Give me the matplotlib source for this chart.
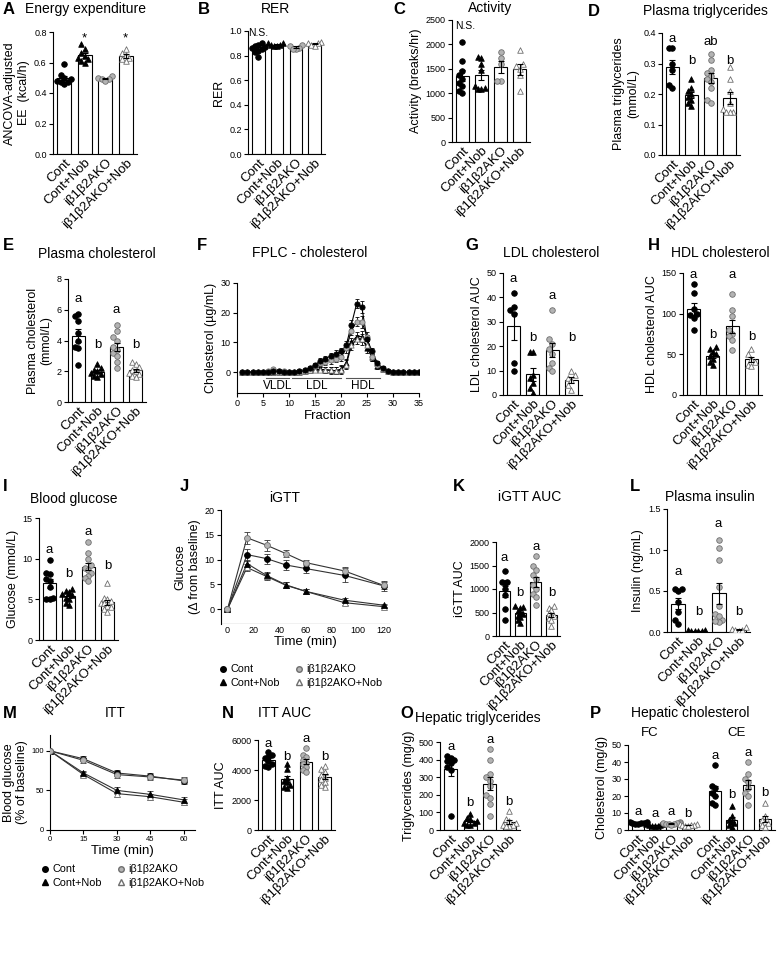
import numpy as np
import matplotlib
matplotlib.use('Agg')
import matplotlib.pyplot as plt
from matplotlib.lines import Line2D

plt.rcParams['font.family'] = ['Liberation Sans', 'DejaVu Sans']

W, H = 782, 957
grupos = ['Cont', 'Cont+Nob', 'iβ1β2AKO', 'iβ1β2AKO+Nob']

# ---- datos (valores individuales por grupo) ----
ee = [[0.59, 0.52, 0.50, 0.49, 0.48, 0.47, 0.47, 0.46],
      [0.72, 0.69, 0.66, 0.64, 0.63, 0.62, 0.61, 0.60],
      [0.51, 0.50, 0.49, 0.49, 0.48],
      [0.69, 0.66, 0.65, 0.63, 0.62, 0.61]]
rer = [[0.90, 0.89, 0.88, 0.87, 0.86, 0.85, 0.84, 0.83, 0.79],
       [0.90, 0.90, 0.89, 0.89, 0.88, 0.88],
       [0.89, 0.88, 0.86, 0.85, 0.85],
       [0.91, 0.90, 0.90, 0.89, 0.88]]
actividad = [[2050, 1650, 1450, 1380, 1300, 1200, 1150, 1050, 1000],
             [1750, 1720, 1600, 1480, 1150, 1100, 1080, 1080],
             [1850, 1720, 1600, 1250, 1250],
             [1880, 1600, 1550, 1500, 1380, 1050]]
tg_plasma = [[0.35, 0.35, 0.30, 0.28, 0.23, 0.22],
             [0.25, 0.22, 0.21, 0.20, 0.19, 0.18, 0.17, 0.16],
             [0.33, 0.31, 0.28, 0.27, 0.26, 0.25, 0.24, 0.22, 0.18, 0.17],
             [0.29, 0.25, 0.21, 0.17, 0.15, 0.14, 0.14, 0.14]]
col_plasma = [[5.7, 5.6, 5.3, 4.5, 4.0, 3.6, 3.5, 2.4],
              [2.5, 2.2, 2.1, 2.0, 1.9, 1.8, 1.7, 1.6],
              [5.0, 4.6, 4.2, 4.0, 3.6, 3.4, 3.2, 3.0, 2.6, 2.2],
              [2.6, 2.5, 2.3, 2.1, 2.0, 1.9, 1.8, 1.7, 1.6]]
ldl_auc = [[42, 36, 35, 33, 13, 10],
           [17.5, 17.5, 8, 7, 5, 3, 1],
           [35, 23, 21, 19, 17, 13, 11, 10],
           [10, 8, 7, 6, 4, 2]]
hdl_auc = [[136, 125, 106, 100, 98, 95, 80],
           [59, 57, 53, 50, 48, 44, 40, 37],
           [124, 104, 97, 80, 75, 72, 68, 55],
           [56, 50, 44, 40, 37, 36]]
glucosa = [[9.8, 8.2, 8.1, 7.5, 7.3, 6.5, 5.2, 5.1, 5.1],
           [6.3, 6.0, 5.9, 5.6, 5.5, 5.2, 5.0, 4.5, 4.3],
           [12.0, 10.7, 10.0, 9.2, 8.9, 8.6, 8.2, 7.9, 7.6, 7.2],
           [7.0, 5.2, 5.0, 4.8, 4.6, 4.5, 4.2, 4.0, 3.8, 3.5]]
igtt_auc = [[1380, 1150, 1140, 1130, 1000, 870, 580, 330],
            [630, 620, 600, 540, 500, 470, 430, 400, 330, 280],
            [1700, 1480, 1400, 1300, 1210, 1080, 1000, 900, 830, 650],
            [630, 600, 550, 500, 450, 420, 380, 330, 220]]
insulina = [[0.53, 0.52, 0.50, 0.36, 0.25, 0.15, 0.10],
            [0.02, 0.01, 0.01, 0.01, 0.02, 0.01],
            [1.12, 1.03, 0.88, 0.55, 0.32, 0.22, 0.15, 0.12, 0.13, 0.20],
            [0.06, 0.04, 0.02, 0.01, 0.02]]
itt_auc = [[5200, 5000, 4900, 4800, 4600, 4400, 4300, 4200],
           [4400, 4100, 3500, 3300, 3200, 3000, 2900, 2800],
           [5500, 5000, 4900, 4700, 4500, 4400, 4200, 4000, 3900],
           [4300, 4100, 3900, 3700, 3500, 3400, 3200, 3000, 2900]]
tg_hepatico = [[420, 410, 400, 390, 380, 360, 340, 80],
               [90, 70, 60, 50, 40, 40, 30, 30],
               [460, 400, 320, 300, 280, 250, 200, 180, 150, 80],
               [110, 60, 50, 40, 30, 30, 20, 20]]
fc_hepatico = [[5.0, 4.6, 4.4, 4.2, 4.0, 3.8, 3.6],
               [3.6, 3.3, 3.0, 2.8, 2.6, 2.5, 2.3],
               [4.8, 4.4, 4.1, 3.9, 3.7, 3.5, 3.3, 3.1],
               [3.8, 3.4, 3.1, 2.9, 2.7, 2.5, 2.3]]
ce_hepatico = [[38, 26, 25, 22, 20, 16, 15],
               [14, 8, 6, 5, 4, 3, 2],
               [40, 33, 30, 28, 25, 22, 20, 15],
               [16, 8, 6, 5, 4, 3, 2]]

# FPLC (fracciones 1-35)
fracciones = np.arange(1, 36)
fplc_cont = [0, 0, 0, 0, 0, 0.2, 0.5, 0.3, 0.2, 0.2, 0.2, 0.3, 0.8, 1.5, 2.5, 3.8, 4.5, 5.5, 6.2, 7,
             9, 16, 23, 22, 11, 7, 3, 1.5, 0.5, 0.2, 0.1, 0, 0, 0, 0]
fplc_contnob = [0, 0, 0, 0, 0, 0.1, 0.2, 0.2, 0.1, 0.1, 0.1, 0.2, 0.4, 0.8, 1, 1, 0.8, 0.7, 0.5, 1,
                3, 10, 12, 12, 8, 5, 2, 1, 0.5, 0.2, 0.1, 0, 0, 0, 0]
fplc_ako = [0, 0, 0, 0, 0, 0.5, 1.0, 0.5, 0.3, 0.2, 0.2, 0.3, 0.8, 1.5, 2, 3, 3.5, 4, 4.5, 5,
            8, 14, 17, 17, 12, 5, 2.5, 1, 0.5, 0.2, 0.1, 0, 0, 0, 0]
fplc_akonob = [0, 0, 0, 0, 0, 0.1, 0.3, 0.2, 0.1, 0.1, 0.1, 0.2, 0.4, 0.8, 0.9, 0.9, 0.8, 0.6, 0.5, 0.8,
               2.5, 9, 11, 11, 9, 6, 3, 1, 0.5, 0.2, 0.1, 0, 0, 0, 0]
fplc_sem = [0, 0, 0, 0, 0, 0.1, 0.2, 0.1, 0.1, 0.1, 0.1, 0.2, 0.3, 0.5, 0.7, 0.9, 1.0, 1.1, 1.2, 1.3,
            1.5, 1.6, 1.5, 2.0, 1.5, 1.2, 0.8, 0.5, 0.3, 0.1, 0.1, 0, 0, 0, 0]

# iGTT
tiempo_gtt = [0, 15, 30, 45, 60, 90, 120]
gtt_cont = [0, 11.0, 10.2, 8.9, 8.2, 6.8, 4.7]
gtt_contnob = [0, 9.2, 6.8, 4.9, 3.6, 1.8, 0.8]
gtt_ako = [0, 14.4, 12.9, 11.2, 9.4, 7.7, 4.8]
gtt_akonob = [0, 8.4, 6.6, 4.8, 3.6, 1.3, 0.5]
gtt_sem_cont = [0.3, 1.2, 1.0, 1.0, 1.0, 1.4, 1.0]
gtt_sem_ako = [0.3, 1.2, 1.1, 0.7, 0.5, 0.7, 0.7]
gtt_sem_nob = [0.3, 0.8, 0.7, 0.6, 0.5, 0.4, 0.3]

# ITT
tiempo_itt = [0, 15, 30, 45, 60]
itt_cont = [100, 90, 72, 68, 62]
itt_contnob = [100, 72, 50, 45, 38]
itt_ako = [100, 88, 70, 67, 63]
itt_akonob = [100, 70, 46, 42, 35]
itt_sem = [0, 3, 4, 4, 4]

# ---- estilos ----
estilos = [dict(marker='o', facecolor='black', edgecolor='black'),
           dict(marker='^', facecolor='black', edgecolor='black'),
           dict(marker='o', facecolor='#b3b3b3', edgecolor='#6e6e6e'),
           dict(marker='^', facecolor='white', edgecolor='#6e6e6e')]

fig = plt.figure(figsize=(W / 100, H / 100), dpi=100)


def caja(l, t, r, b):
    return [l / W, 1 - b / H, (r - l) / W, (b - t) / H]


def texto(x, y, s, **kw):
    fig.text(x / W, 1 - y / H, s, va='center', **kw)


def limpiar(ax):
    for s in ['top', 'right']:
        ax.spines[s].set_visible(False)
    for s in ['left', 'bottom']:
        ax.spines[s].set_linewidth(0.8)
    ax.tick_params(labelsize=6.5, width=0.8, length=3, pad=1.5)


def enjambre(vals, rango, ancho=0.17, sep=0.045):
    vals = np.asarray(vals, float)
    xs = np.zeros(len(vals))
    puestos = []
    for i in np.argsort(vals):
        dx = 0
        for c in [0, -1, 1, -2, 2, -3, 3]:
            dx = c * ancho
            if all(abs(dx - a) > ancho * 0.9 or abs(vals[i] - b) / rango > sep for a, b in puestos):
                break
        xs[i] = dx
        puestos.append((dx, vals[i]))
    return xs


def barras(ax, datos, pos, rango):
    for k, (d, p) in enumerate(zip(datos, pos)):
        d = np.asarray(d, float)
        m = d.mean()
        sem = d.std(ddof=1) / np.sqrt(len(d))
        ax.bar(p, m, width=0.68, color='white', edgecolor='black', linewidth=0.8, zorder=1)
        ax.scatter(p + enjambre(d, rango), d, s=16, linewidths=0.6, zorder=3, **estilos[k % 4])
        ax.errorbar(p, m, yerr=sem, color='black', capsize=2.5, elinewidth=0.8, capthick=0.8, zorder=4)
    ax.set_xticks(pos)
    ax.set_xticklabels(grupos * (len(pos) // 4), rotation=45, ha='right',
                       rotation_mode='anchor', fontsize=9.5)
    ax.tick_params(axis='x', length=0, pad=2)


def panel_barras(rect, datos, ylim, yticks, ylabel, letras=None, letras_y=None, fmt=None):
    ax = fig.add_axes(caja(*rect))
    limpiar(ax)
    barras(ax, datos, np.arange(4), ylim[1] - ylim[0])
    ax.set_xlim(-0.55, 3.55)
    ax.set_ylim(*ylim)
    ax.set_yticks(yticks)
    if fmt:
        ax.set_yticklabels([fmt.format(v) for v in yticks])
    ax.set_ylabel(ylabel, fontsize=9, labelpad=3)
    if letras:
        for i, (s, y) in enumerate(zip(letras, letras_y)):
            ax.text(i, y, s, ha='center', va='bottom', fontsize=9.5)
    return ax


# A
ax = panel_barras((53, 32, 137, 154), ee, (0, 0.8), [0, 0.2, 0.4, 0.6, 0.8],
                  'ANCOVA-adjusted\nEE  (kcal/h)', ['', '*', '', '*'], [0, 0.72, 0, 0.72], '{:.1f}')
# B
ax = panel_barras((248, 31, 325, 154), rer, (0, 1.0), [0, 0.2, 0.4, 0.6, 0.8, 1.0], 'RER', fmt='{:.1f}')
ax.text(0, 0.94, 'N.S.', ha='center', va='bottom', fontsize=7.5)
# C
ax = panel_barras((452, 20, 530, 142), actividad, (0, 2500), [0, 500, 1000, 1500, 2000, 2500],
                  'Activity (breaks/hr)')
ax.text(0.15, 2280, 'N.S.', ha='center', va='bottom', fontsize=7.5)
# D
panel_barras((662, 33, 740, 155), tg_plasma, (0, 0.4), [0, 0.1, 0.2, 0.3, 0.4],
             'Plasma triglycerides\n(mmol/L)', ['a', 'b', 'ab', 'b'], [0.36, 0.29, 0.35, 0.29], '{:.1f}')
# E
panel_barras((68, 279, 146, 402), col_plasma, (0, 8), [0, 2, 4, 6, 8],
             'Plasma cholesterol\n(mmol/L)', ['a', 'b', 'a', 'b'], [6.3, 3.3, 5.6, 3.3])
# G
panel_barras((503, 273, 582, 395), ldl_auc, (0, 50), [0, 10, 20, 30, 40, 50],
             'LDL cholesterol AUC', ['a', 'b', 'a', 'b'], [45, 21, 38, 21])
# H
panel_barras((683, 273, 762, 395), hdl_auc, (0, 150), [0, 50, 100, 150],
             'HDL cholesterol AUC', ['a', 'b', 'a', 'b'], [140, 67, 140, 64])
# I
panel_barras((39, 518, 118, 640), glucosa, (0, 15), [0, 5, 10, 15],
             'Glucose (mmol/L)', ['a', 'b', 'a', 'b'], [10.3, 7.4, 12.6, 8.3])
# K
panel_barras((496, 542, 560, 636), igtt_auc, (0, 2000), [0, 500, 1000, 1500, 2000],
             'iGTT AUC', ['a', 'b', 'a', 'b'], [1530, 790, 1760, 790])
# L
panel_barras((667, 509, 750, 632), insulina, (0, 1.5), [0, 0.5, 1.0, 1.5],
             'Insulin (ng/mL)', ['a', 'b', 'a', 'b'], [0.66, 0.17, 1.24, 0.17], '{:.1f}')
# N
panel_barras((258, 740, 335, 830), itt_auc, (0, 6000), [0, 2000, 4000, 6000],
             'ITT AUC', ['a', 'b', 'a', 'b'], [5350, 4500, 5700, 4450])
# O
panel_barras((440, 742, 520, 830), tg_hepatico, (0, 500), [0, 100, 200, 300, 400, 500],
             'Triglycerides (mg/g)', ['a', 'b', 'a', 'b'], [440, 120, 475, 125])

# P
ax = fig.add_axes(caja(628, 745, 775, 830))
limpiar(ax)
pos_p = np.array([0, 1, 2, 3, 4.6, 5.6, 6.6, 7.6])
barras(ax, fc_hepatico + ce_hepatico, pos_p, 50)
ax.set_xlim(-0.6, 8.2)
ax.set_ylim(0, 50)
ax.set_yticks([0, 10, 20, 30, 40, 50])
ax.set_ylabel('Cholesterol (mg/g)', fontsize=9, labelpad=3)
for p, s, y in zip(pos_p, ['a', 'a', 'a', 'b', 'a', 'b', 'a', 'b'], [7, 6, 7, 6, 40, 17, 42, 18]):
    ax.text(p, y, s, ha='center', va='bottom', fontsize=9.5)
texto(650, 733, 'FC', ha='center', fontsize=9.5)
texto(737, 733, 'CE', ha='center', fontsize=9.5)

# F
ax = fig.add_axes(caja(237, 283, 419, 393))
limpiar(ax)
for serie, k in [(fplc_contnob, 1), (fplc_akonob, 3), (fplc_ako, 2), (fplc_cont, 0)]:
    ax.errorbar(fracciones, serie, yerr=fplc_sem, color='black', lw=0.8, elinewidth=0.6,
                capsize=1.5, capthick=0.6, zorder=2)
    ax.scatter(fracciones, serie, s=14, linewidths=0.6, zorder=3, **estilos[k])
ax.set_xlim(0, 35)
ax.set_ylim(-7, 30)
ax.set_xticks(range(0, 36, 5))
ax.set_yticks([0, 10, 20, 30])
ax.set_ylabel('Cholesterol (µg/mL)', fontsize=9, labelpad=3)
ax.set_xlabel('Fraction', fontsize=9.5, labelpad=1)
for a, b, s in [(5.5, 10, 'VLDL'), (10.5, 20, 'LDL'), (21, 27.5, 'HDL')]:
    ax.plot([a, b], [-1.8, -1.8], color='#555555', lw=0.8)
    ax.text((a + b) / 2, -4.6, s, ha='center', va='center', fontsize=8.5)

# J
ax = fig.add_axes(caja(221, 510, 390, 624))
limpiar(ax)
for serie, sem, k in [(gtt_akonob, gtt_sem_nob, 3), (gtt_contnob, gtt_sem_nob, 1),
                      (gtt_cont, gtt_sem_cont, 0), (gtt_ako, gtt_sem_ako, 2)]:
    ax.errorbar(tiempo_gtt, serie, yerr=sem, color='#333333', lw=0.8, elinewidth=0.6,
                capsize=2, capthick=0.6, zorder=2)
    ax.scatter(tiempo_gtt, serie, s=18, linewidths=0.6, zorder=3, **estilos[k])
ax.set_xlim(-5, 125)
ax.set_ylim(-3, 20)
ax.set_xticks(range(0, 121, 20))
ax.set_yticks([0, 5, 10, 15, 20])
ax.spines['bottom'].set_visible(False)
ax.tick_params(axis='x', length=0)
ax.axhline(-3, color='black', lw=0.8)
ax.set_ylabel('Glucose\n(Δ from baseline)', fontsize=9, labelpad=3)
ax.set_xlabel('Time (min)', fontsize=9.5, labelpad=1)

# M
ax = fig.add_axes(caja(50, 735, 195, 830))
limpiar(ax)
for serie, k in [(itt_akonob, 3), (itt_contnob, 1), (itt_cont, 0), (itt_ako, 2)]:
    ax.errorbar(tiempo_itt, serie, yerr=itt_sem, color='#333333', lw=0.8, elinewidth=0.6,
                capsize=2, capthick=0.6, zorder=2)
    ax.scatter(tiempo_itt, serie, s=18, linewidths=0.6, zorder=3, **estilos[k])
ax.set_xlim(0, 65)
ax.set_ylim(0, 120)
ax.set_xticks([0, 15, 30, 45, 60])
ax.set_yticks([0, 50, 100])
ax.tick_params(labelsize=5.5)
ax.set_ylabel('Blood glucose\n(% of baseline)', fontsize=9, labelpad=2)
ax.set_xlabel('Time (min)', fontsize=9.5, labelpad=1)

# leyendas
manejadores = [Line2D([], [], linestyle='none', markersize=4, marker=e['marker'],
                      markerfacecolor=e['facecolor'], markeredgecolor=e['edgecolor'])
               for e in estilos]
for x, y in [(300, 676), (122, 876)]:
    fig.legend(manejadores, grupos, ncol=2, frameon=False, fontsize=7.8, loc='center',
               bbox_to_anchor=(x / W, 1 - y / H), handletextpad=0.2, columnspacing=1.2,
               labelspacing=0.3, handlelength=1)

# títulos y letras de panel
titulos = [(25, 9, 'Energy expenditure', 'left'), (275, 9, 'RER', 'center'),
           (490, 8, 'Activity', 'center'), (705, 11, 'Plasma triglycerides', 'center'),
           (97, 254, 'Plasma cholesterol', 'center'), (310, 253, 'FPLC - cholesterol', 'center'),
           (551, 253, 'LDL cholesterol', 'center'), (720, 253, 'HDL cholesterol', 'center'),
           (74, 499, 'Blood glucose', 'center'), (285, 498, 'iGTT', 'center'),
           (530, 497, 'iGTT AUC', 'center'), (710, 497, 'Plasma insulin', 'center'),
           (115, 713, 'ITT', 'center'), (285, 713, 'ITT AUC', 'center'),
           (478, 718, 'Hepatic triglycerides', 'center'), (690, 713, 'Hepatic cholesterol', 'center')]
for x, y, s, ha in titulos:
    texto(x, y, s, ha=ha, fontsize=10)

letras = [(3, 9, 'A'), (198, 9, 'B'), (393, 9, 'C'), (588, 11, 'D'), (3, 246, 'E'), (197, 246, 'F'),
          (465, 246, 'G'), (648, 246, 'H'), (3, 487, 'I'), (180, 487, 'J'), (453, 487, 'K'),
          (630, 487, 'L'), (3, 713, 'M'), (222, 713, 'N'), (400, 713, 'O'), (590, 713, 'P')]
for x, y, s in letras:
    texto(x, y, s, ha='left', fontsize=12, fontweight='bold')

fig.savefig('out.png', dpi=100)
